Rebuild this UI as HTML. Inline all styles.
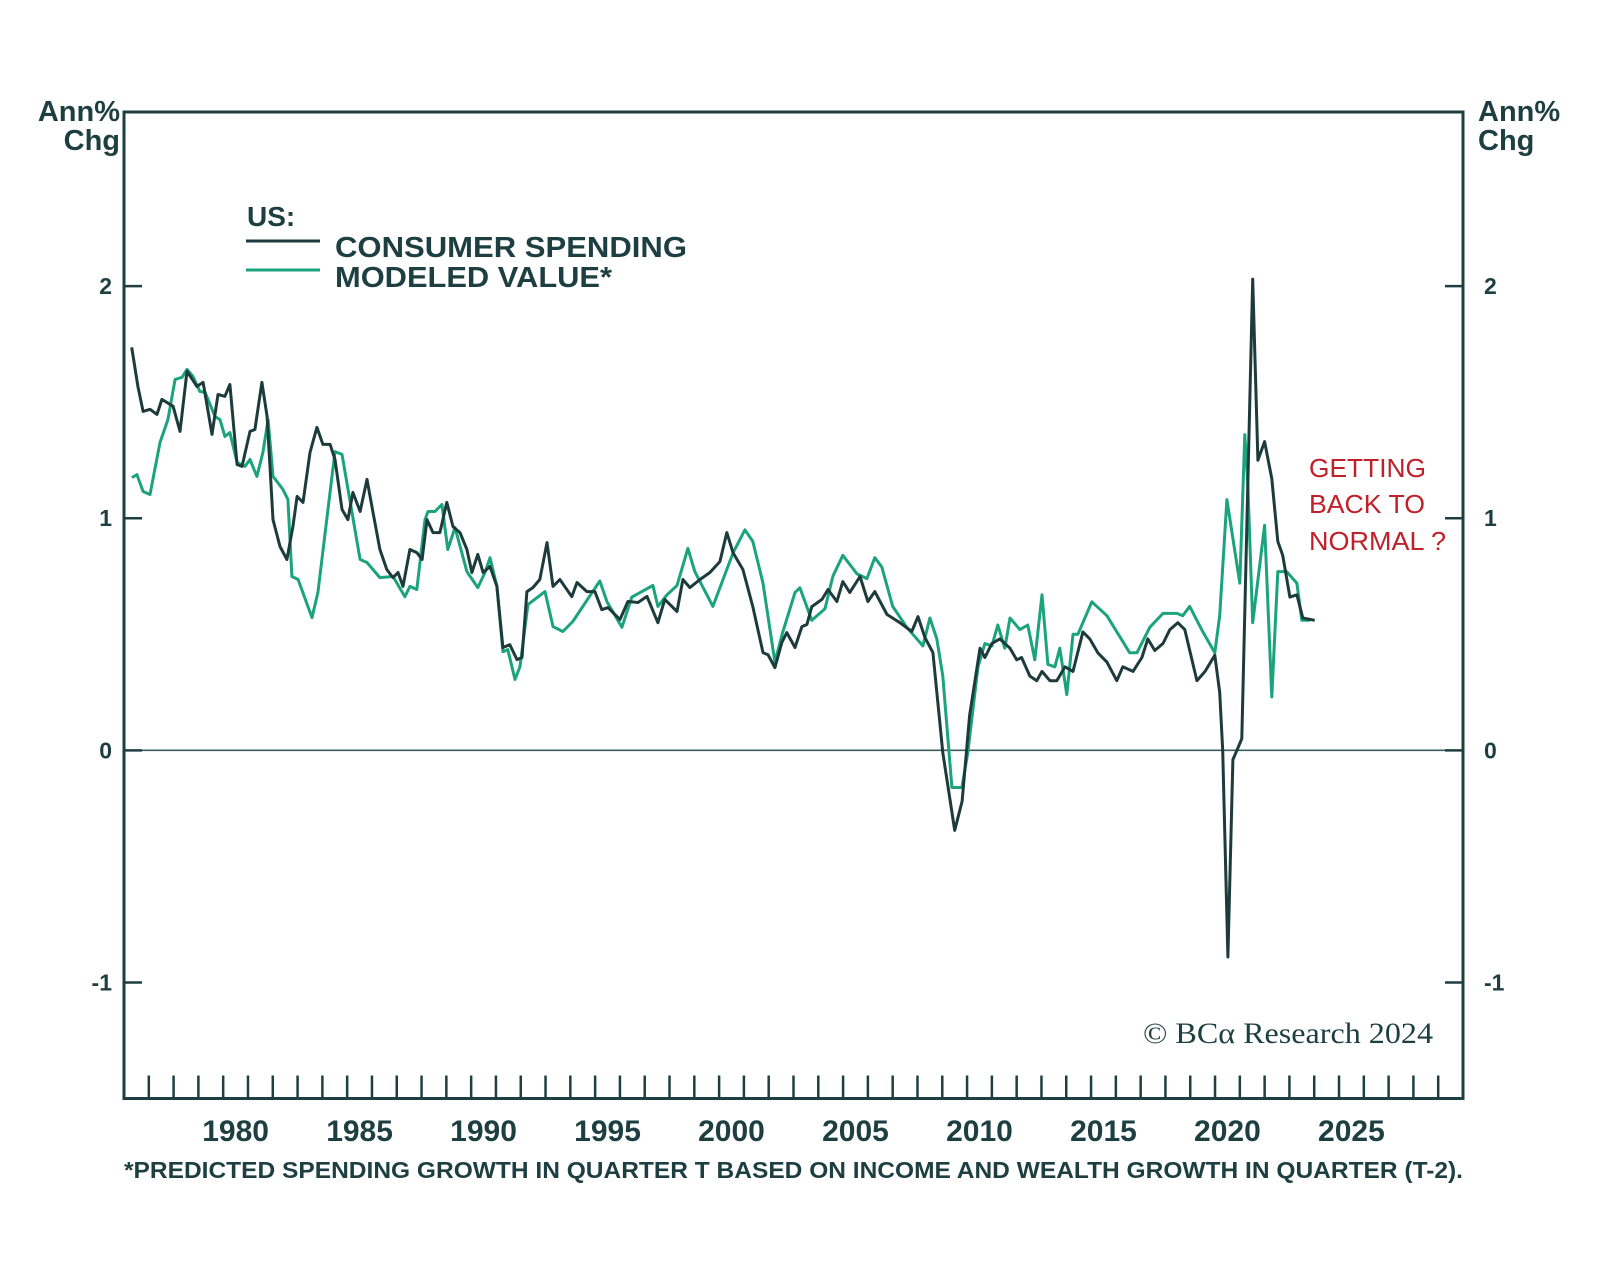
<!DOCTYPE html>
<html><head><meta charset="utf-8"><title>US Consumer Spending vs Modeled Value</title>
<style>
html,body{margin:0;padding:0;background:#fff;}
svg{display:block;}
.ax{font-family:"Liberation Sans",sans-serif;font-weight:bold;fill:#1e3f42;}
.nar{font-family:"Liberation Sans Narrow","Liberation Sans",sans-serif;font-weight:bold;fill:#1e3f42;}
</style></head>
<body>
<svg id="chart" width="1600" height="1281" viewBox="0 0 1600 1281">
  <rect x="0" y="0" width="1600" height="1281" fill="#fff"/>
  <g id="grid"></g>
  <g id="series"></g>
  <text class="nar" x="120" y="121" font-size="29" text-anchor="end">Ann%</text>
  <text class="nar" x="120" y="150" font-size="29" text-anchor="end">Chg</text>
  <text class="nar" x="1478" y="121" font-size="29">Ann%</text>
  <text class="nar" x="1478" y="150" font-size="29">Chg</text>
  <g>
    <text class="nar" x="247" y="226" font-size="28">US:</text>
    <line x1="246" y1="241" x2="320" y2="241" stroke="#1d3b3d" stroke-width="3"/>
    <line x1="246" y1="270" x2="320" y2="270" stroke="#1ba37c" stroke-width="3"/>
    <text class="nar" x="335" y="257" font-size="29" textLength="352" lengthAdjust="spacingAndGlyphs">CONSUMER SPENDING</text>
    <text class="nar" x="335" y="287" font-size="29" textLength="277" lengthAdjust="spacingAndGlyphs">MODELED VALUE*</text>
  </g>
  <g font-family="Liberation Sans, sans-serif" font-size="26" fill="#c0202a">
    <text x="1309" y="477" textLength="117" lengthAdjust="spacingAndGlyphs">GETTING</text>
    <text x="1309" y="513" textLength="116" lengthAdjust="spacingAndGlyphs">BACK TO</text>
    <text x="1309" y="550" textLength="137" lengthAdjust="spacingAndGlyphs">NORMAL ?</text>
  </g>
  <text x="1143" y="1043" font-family="Liberation Serif, serif" font-size="30" fill="#1e3f42" textLength="290" lengthAdjust="spacingAndGlyphs">© BCα Research 2024</text>
  <text class="nar" x="124" y="1178" font-size="23" textLength="1339" lengthAdjust="spacingAndGlyphs">*PREDICTED SPENDING GROWTH IN QUARTER T BASED ON INCOME AND WEALTH GROWTH IN QUARTER (T-2).</text>
</svg>
<script>
const yTicks = [2, 1, 0, -1];
const yTickLabels = ["2", "1", "0", "-1"];
const xLabelYears = [1980, 1985, 1990, 1995, 2000, 2005, 2010, 2015, 2020, 2025];
const spendDates = [1976.31,1976.56,1976.77,1977.05,1977.33,1977.53,1977.98,1978.26,1978.54,1978.94,1979.19,1979.55,1979.79,1980.07,1980.27,1980.56,1980.76,1981.08,1981.28,1981.56,1981.77,1982.01,1982.29,1982.57,1982.81,1982.98,1983.22,1983.5,1983.78,1984.02,1984.31,1984.51,1984.79,1985.03,1985.23,1985.52,1985.8,1986.04,1986.32,1986.6,1986.85,1987.05,1987.25,1987.53,1987.81,1988.02,1988.22,1988.46,1988.74,1989.02,1989.27,1989.55,1989.83,1990.03,1990.27,1990.48,1990.76,1991.04,1991.28,1991.56,1991.85,1992.05,1992.25,1992.49,1992.77,1993.06,1993.3,1993.58,1994.06,1994.27,1994.67,1994.99,1995.27,1995.52,1996.0,1996.32,1996.73,1997.09,1997.53,1997.81,1998.3,1998.54,1998.82,1999.23,1999.63,2000.03,2000.31,2000.56,2000.96,2001.36,2001.77,2001.97,2002.25,2002.53,2002.73,2003.06,2003.34,2003.54,2003.74,2004.15,2004.39,2004.75,2004.99,2005.27,2005.68,2006.0,2006.28,2006.77,2007.29,2007.77,2008.02,2008.3,2008.62,2009.02,2009.5,2009.8,2010.1,2010.52,2010.72,2011.0,2011.32,2011.73,2012.0,2012.2,2012.53,2012.81,2013.02,2013.34,2013.62,2013.95,2014.27,2014.67,2014.95,2015.27,2015.64,2016.04,2016.28,2016.69,2017.05,2017.29,2017.57,2017.9,2018.18,2018.5,2018.78,2019.27,2019.6,2019.99,2020.19,2020.31,2020.52,2020.72,2020.88,2021.08,2021.28,2021.52,2021.73,2022.0,2022.29,2022.53,2022.73,2023.02,2023.3,2023.54,2024.02];
const spendValues = [1.736,1.568,1.46,1.469,1.447,1.512,1.482,1.374,1.633,1.568,1.585,1.361,1.533,1.525,1.576,1.231,1.223,1.374,1.382,1.585,1.438,0.994,0.878,0.822,0.964,1.094,1.068,1.283,1.391,1.318,1.318,1.253,1.038,0.994,1.111,1.029,1.167,1.025,0.865,0.779,0.744,0.766,0.706,0.865,0.852,0.822,0.994,0.938,0.938,1.068,0.964,0.938,0.865,0.766,0.844,0.766,0.792,0.706,0.443,0.455,0.391,0.4,0.684,0.701,0.736,0.895,0.706,0.736,0.662,0.723,0.684,0.684,0.606,0.615,0.563,0.641,0.637,0.663,0.55,0.65,0.598,0.736,0.701,0.736,0.766,0.813,0.938,0.852,0.779,0.619,0.421,0.412,0.356,0.464,0.507,0.443,0.533,0.542,0.619,0.65,0.693,0.641,0.727,0.68,0.749,0.641,0.684,0.585,0.55,0.512,0.576,0.486,0.421,-0.01,-0.345,-0.22,0.15,0.44,0.4,0.46,0.48,0.44,0.39,0.4,0.32,0.3,0.34,0.3,0.3,0.36,0.34,0.51,0.48,0.42,0.38,0.3,0.36,0.34,0.4,0.48,0.43,0.46,0.52,0.55,0.52,0.3,0.34,0.41,0.25,0.0,-0.89,-0.04,0.0,0.05,0.96,2.03,1.25,1.33,1.17,0.9,0.84,0.66,0.67,0.57,0.56];
const modelDates = [1976.32,1976.52,1976.77,1977.05,1977.45,1977.77,1978.06,1978.34,1978.54,1978.78,1979.06,1979.27,1979.67,1979.87,1980.07,1980.27,1980.56,1980.88,1981.08,1981.36,1981.6,1981.81,1982.01,1982.41,1982.61,1982.77,1983.02,1983.58,1983.82,1984.51,1984.79,1985.52,1985.8,1986.32,1986.85,1987.33,1987.53,1987.81,1988.14,1988.26,1988.54,1988.82,1989.06,1989.35,1989.83,1990.27,1990.56,1990.76,1991.04,1991.28,1991.48,1991.77,1991.97,1992.29,1992.98,1993.3,1993.7,1994.1,1995.19,1995.48,1996.08,1996.48,1997.33,1997.53,1997.9,1998.3,1998.74,1999.02,1999.75,2000.56,2001.04,2001.36,2001.77,2002.25,2002.57,2003.06,2003.26,2003.74,2004.27,2004.59,2004.99,2005.56,2005.96,2006.28,2006.56,2007.0,2007.57,2008.22,2008.5,2008.78,2009.02,2009.39,2009.79,2010.03,2010.44,2010.72,2011.0,2011.24,2011.52,2011.73,2012.13,2012.45,2012.73,2013.02,2013.26,2013.54,2013.74,2014.02,2014.27,2014.47,2015.03,2015.64,2016.56,2016.85,2017.37,2017.9,2018.46,2018.7,2018.98,2019.51,2019.99,2020.19,2020.48,2021.0,2021.2,2021.32,2021.52,2022.0,2022.29,2022.53,2022.89,2023.3,2023.5,2023.82];
const modelValues = [1.175,1.188,1.115,1.102,1.326,1.425,1.598,1.607,1.641,1.611,1.546,1.542,1.438,1.425,1.352,1.369,1.24,1.223,1.253,1.18,1.283,1.425,1.18,1.124,1.081,0.749,0.736,0.572,0.68,1.287,1.275,0.822,0.809,0.744,0.749,0.662,0.706,0.693,0.994,1.029,1.029,1.059,0.865,0.96,0.77,0.701,0.766,0.83,0.706,0.425,0.434,0.305,0.361,0.628,0.684,0.533,0.512,0.555,0.73,0.64,0.53,0.66,0.71,0.62,0.67,0.71,0.87,0.77,0.62,0.85,0.95,0.9,0.72,0.38,0.51,0.68,0.7,0.56,0.61,0.75,0.84,0.76,0.74,0.83,0.79,0.62,0.53,0.45,0.57,0.48,0.32,-0.16,-0.16,-0.01,0.36,0.46,0.45,0.54,0.44,0.57,0.52,0.54,0.39,0.67,0.37,0.36,0.44,0.24,0.5,0.5,0.64,0.58,0.42,0.42,0.53,0.59,0.59,0.58,0.62,0.51,0.42,0.58,1.08,0.72,1.36,1.15,0.55,0.97,0.23,0.77,0.77,0.72,0.56,0.56];

const NS = "http://www.w3.org/2000/svg";
const L = 124, R = 1463, T = 112, B = 1098.5;
const X0 = 1976, X1 = 2030, Y0 = -1.5, Y1 = 2.75;
function xs(v){ return L + (v - X0) / (X1 - X0) * (R - L); }
function ys(v){ return B - (v - Y0) / (Y1 - Y0) * (B - T); }
function mk(tag, attrs, parent){ const e = document.createElementNS(NS, tag); for (const k in attrs) e.setAttribute(k, attrs[k]); parent.appendChild(e); return e; }
const axisColor = "#1e3f42";
const grid = document.getElementById("grid");
const series = document.getElementById("series");

const zl = mk("line", {x1:L, x2:R, y1:ys(0), y2:ys(0), stroke:"#3d5d5f", "stroke-width":1.6}, grid);



yTicks.forEach((t, i) => {
  const y = ys(t);
  const lt = mk("line", {x1:L, x2:L+18, y1:y, y2:y, stroke:axisColor, "stroke-width":2.5}, grid);
  
  
  const rt = mk("line", {x1:R-18, x2:R, y1:y, y2:y, stroke:axisColor, "stroke-width":2.5}, grid);
  
  
  const ll = mk("text", {x:112, y:y+8, "text-anchor":"end", "font-size":23, class:"ax"}, grid);
  ll.textContent = yTickLabels[i];
  
  
  const rl = mk("text", {x:1484, y:y+8, "font-size":23, class:"ax"}, grid);
  rl.textContent = yTickLabels[i];
  
  
});

for (let yr = X0 + 1; yr < X1; yr++) {
  const x = xs(yr);
  const tk = mk("line", {x1:x, x2:x, y1:B, y2:B-23, stroke:axisColor, "stroke-width":2.5}, grid);
  
  
}
xLabelYears.forEach(yr => {
  const t = mk("text", {x:xs(yr + 0.5), y:1141, "text-anchor":"middle", "font-size":30, class:"ax"}, grid);
  t.textContent = String(yr);
  
  
});

const frame = mk("rect", {x:L, y:T, width:R-L, height:B-T, fill:"none", stroke:axisColor, "stroke-width":3}, grid);



function pathFrom(dates, vals){ return dates.map((d, i) => (i ? "L" : "M") + xs(d).toFixed(1) + " " + ys(vals[i]).toFixed(1)).join(" "); }
const mp = mk("path", {d:pathFrom(modelDates, modelValues), fill:"none", stroke:"#1ba37c", "stroke-width":3, "stroke-linejoin":"round"}, series);


const sp = mk("path", {d:pathFrom(spendDates, spendValues), fill:"none", stroke:"#1d3b3d", "stroke-width":3, "stroke-linejoin":"round"}, series);


</script>
</body></html>
